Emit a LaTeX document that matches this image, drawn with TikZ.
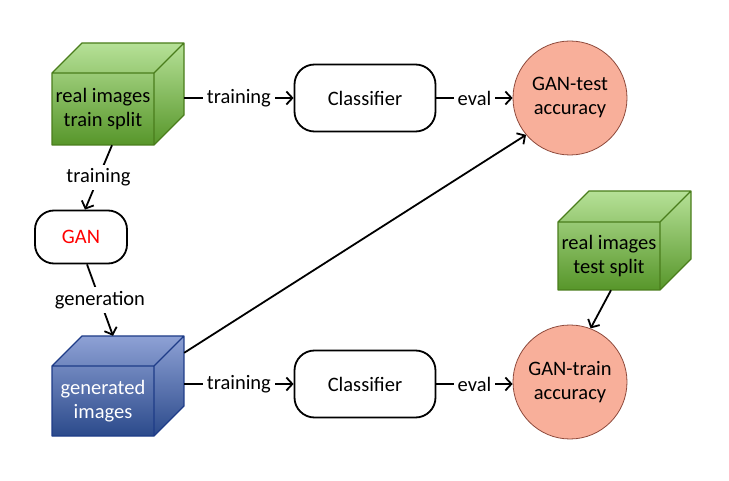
\documentclass[tikz,border=0pt]{standalone}
\usepackage{fontspec}
\setmainfont{Carlito}
\usetikzlibrary{arrows.meta}
\definecolor{gtop}{HTML}{B6E197}
\definecolor{gbot}{HTML}{57962A}
\definecolor{gline}{HTML}{4A7D1C}
\definecolor{btop}{HTML}{8EA1D5}
\definecolor{bbot}{HTML}{2B4A8B}
\definecolor{bline}{HTML}{1E3C88}
\definecolor{cfill}{HTML}{F8AF9A}
\definecolor{cline}{HTML}{8E4A3C}
\newcommand{\mycube}[9]{%
  \shade[top color=#7top, bottom color=#7bot]
    (#2,#3+#5) -- (#2,#3) -- (#2+#6,#3-#6) -- (#2+#4+#6,#3-#6)
    -- (#2+#4+#6,#3+#5-#6) -- (#2+#4,#3+#5) -- cycle;
  \draw[#7line, line width=1.4pt, line join=round]
    (#2,#3+#5) -- (#2,#3) -- (#2+#6,#3-#6) -- (#2+#4+#6,#3-#6)
    -- (#2+#4+#6,#3+#5-#6) -- (#2+#4,#3+#5) -- cycle
    (#2,#3) -- (#2+#4,#3) -- (#2+#4,#3+#5)
    (#2+#4,#3) -- (#2+#4+#6,#3-#6);
  \node[inner sep=0pt, minimum width=#4pt, minimum height=#5pt, align=center, text=#9]
    (#1) at (#2+#4/2, #3+#5/2) {#8};
  \node[inner sep=0pt, minimum width=#4pt+#6pt, minimum height=#5pt+#6pt]
    (#1box) at (#2+#4/2+#6/2, #3+#5/2-#6/2) {};
}
\begin{document}
\begin{tikzpicture}[x=1pt, y=-1pt, font=\fontsize{20.5}{24}\selectfont,
  conn/.style={line width=1.8pt, -{Straight Barb[length=6pt,width=13pt,line width=1.8pt]}},
  elabel/.style={fill=white, inner sep=4pt},
  procbox/.style={draw, line width=1.8pt, rounded corners=20pt, minimum width=141pt, minimum height=67pt, inner sep=0pt},
  ganbox/.style={draw, line width=1.8pt, rounded corners=19pt, minimum width=92pt, minimum height=53pt, inner sep=0pt, text=red},
  accnode/.style={circle, draw=cline, fill=cfill, line width=0.8pt, minimum size=114pt, inner sep=0pt, align=center}]
\useasboundingbox (0,0) rectangle (729,481);

\mycube{c1}{52}{73}{102}{72}{30}{g}{real images\\train split}{black}
\mycube{c2}{52}{366}{102}{70}{30}{b}{generated\\images}{white}
\mycube{c3}{558}{222}{102}{68}{31}{g}{real images\\test split}{black}

\node[procbox] (cls1) at (365,98) {Classifier};
\node[procbox] (cls2) at (365,384) {Classifier};
\node[ganbox] (gan) at (81,237) {GAN};
\node[accnode] (acc1) at (570,98) {GAN-test\\accuracy};
\node[accnode] (acc2) at (570,382) {GAN-train\\accuracy};

\draw[conn] (c1box.east |- cls1.west) -- node[elabel] {training} (cls1.west);
\draw[conn] (cls1.east) -- node[elabel] {eval} (acc1.west);
\draw[conn] ([xshift=9pt]c1.south) -- node[elabel] {training} ([xshift=4pt]gan.north);
\draw[conn] ([xshift=6pt]gan.south) -- node[elabel] {generation} ([xshift=-5pt]c2box.north);
\draw[conn] ([yshift=-17pt]c2box.north east) -- (acc1.220);
\draw[conn] (c2box.east |- cls2.west) -- node[elabel] {training} (cls2.west);
\draw[conn] (cls2.east) -- node[elabel] {eval} (cls2.east -| acc2.west);
\draw[conn] ([xshift=2pt]c3.south) -- (acc2.69);
\end{tikzpicture}
\end{document}
